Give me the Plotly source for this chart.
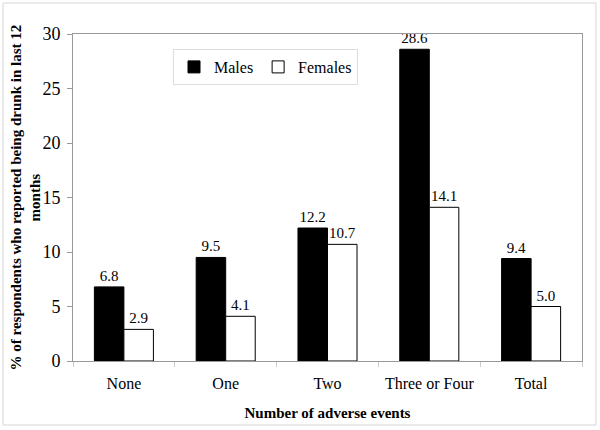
import plotly.graph_objects as go

categories = ["None", "One", "Two", "Three or Four", "Total"]
males = [6.8, 9.5, 12.2, 28.6, 9.4]
females = [2.9, 4.1, 10.7, 14.1, 5.0]

FONT = "Liberation Serif"

fig = go.Figure()
fig.add_trace(go.Bar(
    x=categories, y=males, name="Males",
    marker=dict(color="black", line=dict(color="black", width=1)),
    text=[f"{v:.1f}" for v in males], textposition="outside",
    textfont=dict(family=FONT, size=15, color="black"), cliponaxis=False,
))
fig.add_trace(go.Bar(
    x=categories, y=females, name="Females",
    marker=dict(color="white", line=dict(color="black", width=1)),
    text=[f"{v:.1f}" for v in females], textposition="outside",
    textfont=dict(family=FONT, size=15, color="black"), cliponaxis=False,
))

L, R, T, B = 73, 582, 34, 361
W, H = 600, 430
pw, ph = R - L, B - T
AX = "#999999"

fig.update_layout(
    width=W, height=H,
    margin=dict(l=L, r=W - R, t=T, b=H - B, autoexpand=False),
    paper_bgcolor="white", plot_bgcolor="white",
    barmode="group", bargap=0.42, bargroupgap=0,
    font=dict(family=FONT, color="black"),
    showlegend=True,
    legend=dict(
        orientation="h", x=(173 - L) / pw, y=(B - 49) / ph,
        xanchor="left", yanchor="top",
        bordercolor="#dddddd", borderwidth=1, bgcolor="white",
        font=dict(family=FONT, size=16, color="black"),
        itemwidth=30, traceorder="normal",
    ),
    xaxis=dict(
        showline=True, linecolor=AX, linewidth=1, mirror=True,
        ticks="outside", tickson="boundaries", ticklen=5, tickcolor="#cccccc",
        tickfont=dict(family=FONT, size=16, color="black"), tickangle=0,
        ticklabelstandoff=8,
        title=dict(text="<b>Number of adverse events</b>", font=dict(family=FONT, size=15, color="black"), standoff=16),
        showgrid=False,
    ),
    yaxis=dict(
        range=[0, 30], dtick=5, showline=True, linecolor=AX, linewidth=1, mirror=True,
        ticks="outside", ticklen=5, tickcolor=AX, ticklabelstandoff=3,
        tickfont=dict(family=FONT, size=18, color="black"),
        showgrid=False, zeroline=False,
    ),
    annotations=[
        dict(text="<b>% of respondents who reported being drunk in last 12<br>months</b>",
             xref="paper", yref="paper", x=(25 - L) / pw, y=0.5, xanchor="center", yanchor="middle",
             textangle=-90, showarrow=False, font=dict(family=FONT, size=15, color="black")),
    ],
    shapes=[
        dict(type="rect", xref="paper", yref="paper",
             x0=(3 - L) / pw, x1=(596 - L) / pw, y0=(B - 425) / ph, y1=(B - 3) / ph,
             line=dict(color="#d6d6d6", width=1), layer="above"),
    ],
)

fig.write_html("out.html", config={"displayModeBar": False},
               post_script="document.body.style.margin='0';document.body.style.padding='0';")
